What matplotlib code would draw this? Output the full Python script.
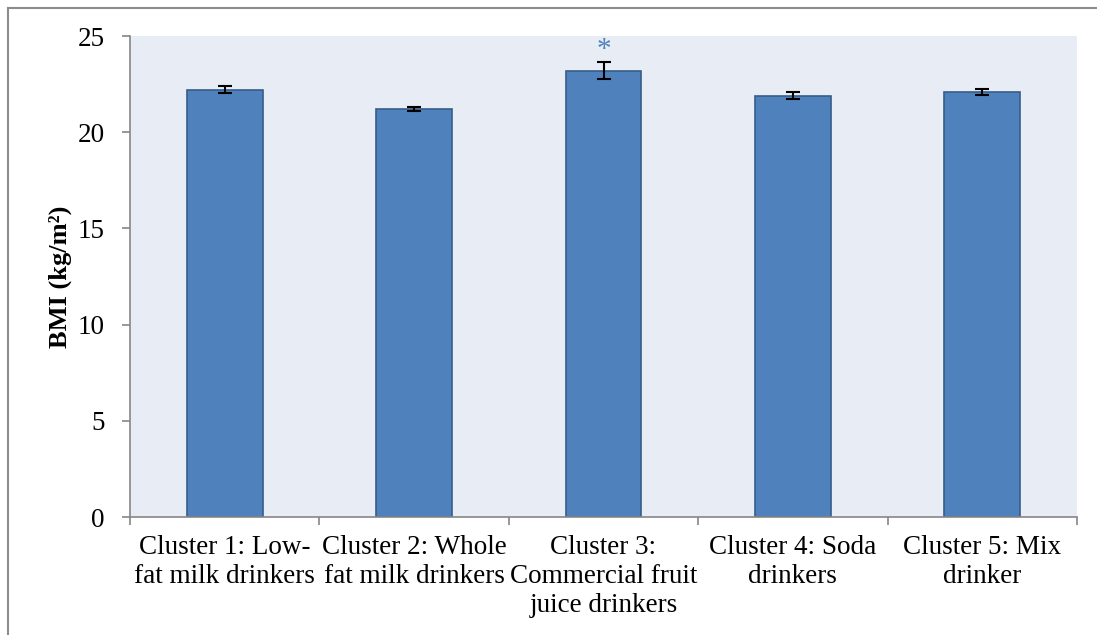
import numpy as np
import matplotlib
matplotlib.use("Agg")
import matplotlib.pyplot as plt
from matplotlib.lines import Line2D

# mean BMI per beverage cluster, with standard errors
clusters = ["Cluster 1: Low-\nfat milk drinkers",
            "Cluster 2: Whole\nfat milk drinkers",
            "Cluster 3:\nCommercial fruit\njuice drinkers",
            "Cluster 4: Soda\ndrinkers",
            "Cluster 5: Mix\ndrinker"]
bmi = [22.2, 21.2, 23.2, 21.9, 22.1]
bmi_se = [0.18, 0.12, 0.45, 0.17, 0.17]
signif = [False, False, True, False, False]

plt.rcParams['font.family'] = ['Liberation Serif', 'DejaVu Serif']

fig = plt.figure(figsize=(10.97, 6.35), dpi=100)
ax = fig.add_axes([0.1185, 0.1858, 0.8633, 0.7575])
ax.set_facecolor('#e8ecf4')

x = np.arange(len(bmi))
ax.bar(x, bmi, width=0.4, color='#4f81bd', edgecolor='#385d8a', linewidth=1.2, zorder=2)
ax.errorbar(x, bmi, yerr=bmi_se, fmt='none', ecolor='black', elinewidth=1.5,
            capsize=5, capthick=1.5, zorder=3)
for xi, v, e, s in zip(x, bmi, bmi_se, signif):
    if s:
        ax.text(xi, v + e + 0.6, '*', ha='center', va='center', fontsize=21,
                color='#4f81bd')

ax.set_xlim(-0.5, len(bmi) - 0.5)
ax.set_ylim(0, 25)
ax.set_yticks([0, 5, 10, 15, 20, 25])
ax.set_xticks(x)
ax.set_xticklabels(clusters, fontsize=19.5, linespacing=1.2)
ax.tick_params(axis='x', length=0, pad=13)
ax.set_xticks(np.arange(len(bmi) + 1) - 0.5, minor=True)
ax.tick_params(axis='x', which='minor', length=6, color='#868686', width=1.2)
ax.tick_params(axis='y', length=6, color='#868686', width=1.2, labelsize=19.5, pad=12)
ax.set_ylabel('BMI (kg/m²)', fontsize=19, fontweight='bold', labelpad=4)

for side in ['top', 'right']:
    ax.spines[side].set_visible(False)
for side in ['left', 'bottom']:
    ax.spines[side].set_color('#868686')
    ax.spines[side].set_linewidth(1.2)

# outer chart frame
fig.add_artist(Line2D([8 / 1097, 8 / 1097], [0, 1 - 8 / 635], transform=fig.transFigure,
                      color='#8c8c8c', linewidth=1.5))
fig.add_artist(Line2D([8 / 1097, 1], [1 - 8 / 635, 1 - 8 / 635], transform=fig.transFigure,
                      color='#8c8c8c', linewidth=1.5))

fig.savefig('out.png', dpi=100)
